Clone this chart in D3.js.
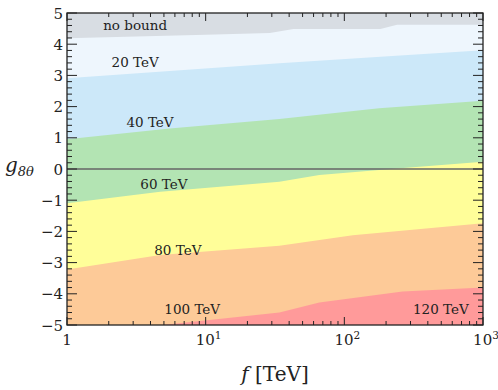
<!DOCTYPE html>
<html><head><meta charset="utf-8">
<script src="https://cdn.jsdelivr.net/npm/d3@7"></script>
<style>body{margin:0;background:#fff}svg{display:block}
text{font-family:"DejaVu Serif"}</style>
</head><body><svg id="c" width="498" height="390"></svg>
<script>
// Boundaries between bound regions (f in TeV, g value)
const bandNames = ["no bound","20 TeV","40 TeV","60 TeV","80 TeV","100 TeV","120 TeV"];
const bandColors = ["#d8dde3","#eef6fd","#cce8f9","#b3e4b3","#fffe99","#fdca98","#ff9a9a"];
const fB1 = [1, 10, 29, 43, 182, 240, 1000];      const gB1 = [4.19, 4.30, 4.36, 4.49, 4.49, 4.62, 4.62];
const fB2 = [1, 34, 182, 1000];                   const gB2 = [2.91, 3.39, 3.60, 3.81];
const fB3 = [1, 5.5, 34, 178, 1000];              const gB3 = [0.95, 1.30, 1.60, 1.95, 2.19];
const fB4 = [1, 4.7, 34, 66, 240, 1000];          const gB4 = [-1.10, -0.73, -0.41, -0.19, 0.02, 0.23];
const fB5 = [1, 4.7, 34, 115, 1000];              const gB5 = [-3.22, -2.76, -2.46, -2.12, -1.74];
const fB6 = [1, 4.9, 34, 66, 263, 1000];          const gB6 = [-5.4, -5.0, -4.60, -4.28, -3.93, -3.80];
// Region labels
const labelText = ["no bound","20 TeV","40 TeV","60 TeV","80 TeV","100 TeV","120 TeV"];
const labelF = [3.1, 3.1, 3.97, 5.0, 6.3, 8.0, 497];
const labelG = [4.45, 3.28, 1.36, -0.64, -2.76, -4.65, -4.65];
// Ticks
const xMajor = [1, 10, 100, 1000];
const xMajorLabels = [["1",""],["10","1"],["10","2"],["10","3"]];
const yMajor = [-5,-4,-3,-2,-1,0,1,2,3,4,5];

const svg = d3.select("#c");
const L=67, R=483, T=13, B=325;
const x = d3.scaleLog().domain([1,1000]).range([L,R]);
const y = d3.scaleLinear().domain([-5,5]).range([B,T]);

svg.append("clipPath").attr("id","clip").append("rect")
  .attr("x",L).attr("y",T).attr("width",R-L).attr("height",B-T);
const g = svg.append("g").attr("clip-path","url(#clip)");

const bounds = [[fB6,gB6],[fB5,gB5],[fB4,gB4],[fB3,gB3],[fB2,gB2],[fB1,gB1]];
g.append("rect").attr("x",L).attr("y",T).attr("width",R-L).attr("height",B-T)
  .attr("fill",bandColors[6]);
const area = d3.area().x(d=>x(d[0])).y0(d=>y(d[1])).y1(y(5.5));
bounds.forEach((b,i)=>{
  const pts = b[0].map((f,k)=>[f,b[1][k]]);
  g.append("path").datum(pts).attr("d",area).attr("fill",bandColors[5-i]);
});

g.append("line").attr("x1",L).attr("x2",R).attr("y1",y(0)).attr("y2",y(0))
  .attr("stroke","#666").attr("stroke-width",1.3);

labelText.forEach((t,i)=>{
  svg.append("text").attr("x",x(labelF[i])).attr("y",y(labelG[i]))
    .attr("text-anchor","middle").attr("font-size",13.5).attr("fill","#222").text(t);
});

const xMinor=[]; for(let d=1; d<1000; d*=10) for(let k=2;k<10;k++) xMinor.push(d*k);
const yMinor=[]; for(let v=-5; v<5; v++) for(let k=1;k<5;k++) yMinor.push(+(v+k*0.2).toFixed(1));
const tk = svg.append("g").attr("stroke","#222").attr("stroke-width",1);
function xt(vals,len){ vals.forEach(v=>{
  tk.append("line").attr("x1",x(v)).attr("x2",x(v)).attr("y1",B).attr("y2",B-len);
  tk.append("line").attr("x1",x(v)).attr("x2",x(v)).attr("y1",T).attr("y2",T+len);
});}
function yt(vals,len){ vals.forEach(v=>{
  tk.append("line").attr("y1",y(v)).attr("y2",y(v)).attr("x1",L).attr("x2",L+len);
  tk.append("line").attr("y1",y(v)).attr("y2",y(v)).attr("x1",R).attr("x2",R-len);
});}
xt(xMajor,8); xt(xMinor,4); yt(yMajor,10); yt(yMinor,5);

svg.append("rect").attr("x",L).attr("y",T).attr("width",R-L).attr("height",B-T)
  .attr("fill","none").attr("stroke","#222").attr("stroke-width",1.3);

yMajor.forEach(v=>{
  svg.append("text").attr("x",L-4).attr("y",y(v)+5.5).attr("text-anchor","end").attr("fill","#222")
    .attr("font-size",15).text(v<0?"\u2212"+(-v):String(v));
});
xMajor.forEach((v,i)=>{
  const t = svg.append("text").attr("x",x(v)+(i>0?3:0)).attr("y",B+20).attr("text-anchor","middle").attr("font-size",15).attr("fill","#222");
  t.append("tspan").text(xMajorLabels[i][0]);
  if(xMajorLabels[i][1]) t.append("tspan").attr("dy",-6).attr("font-size",10.5).text(xMajorLabels[i][1]);
});

const xl = svg.append("text").attr("x",275).attr("y",381).attr("text-anchor","middle").attr("font-size",20).attr("fill","#222");
xl.append("tspan").attr("font-style","italic").text("f");
xl.append("tspan").text(" [TeV]");
const yl = svg.append("text").attr("x",5).attr("y",172).attr("font-size",20).attr("font-style","italic").attr("fill","#222");
yl.append("tspan").text("g");
yl.append("tspan").attr("dy",4).attr("font-size",13).text("8θ");
</script></body></html>
